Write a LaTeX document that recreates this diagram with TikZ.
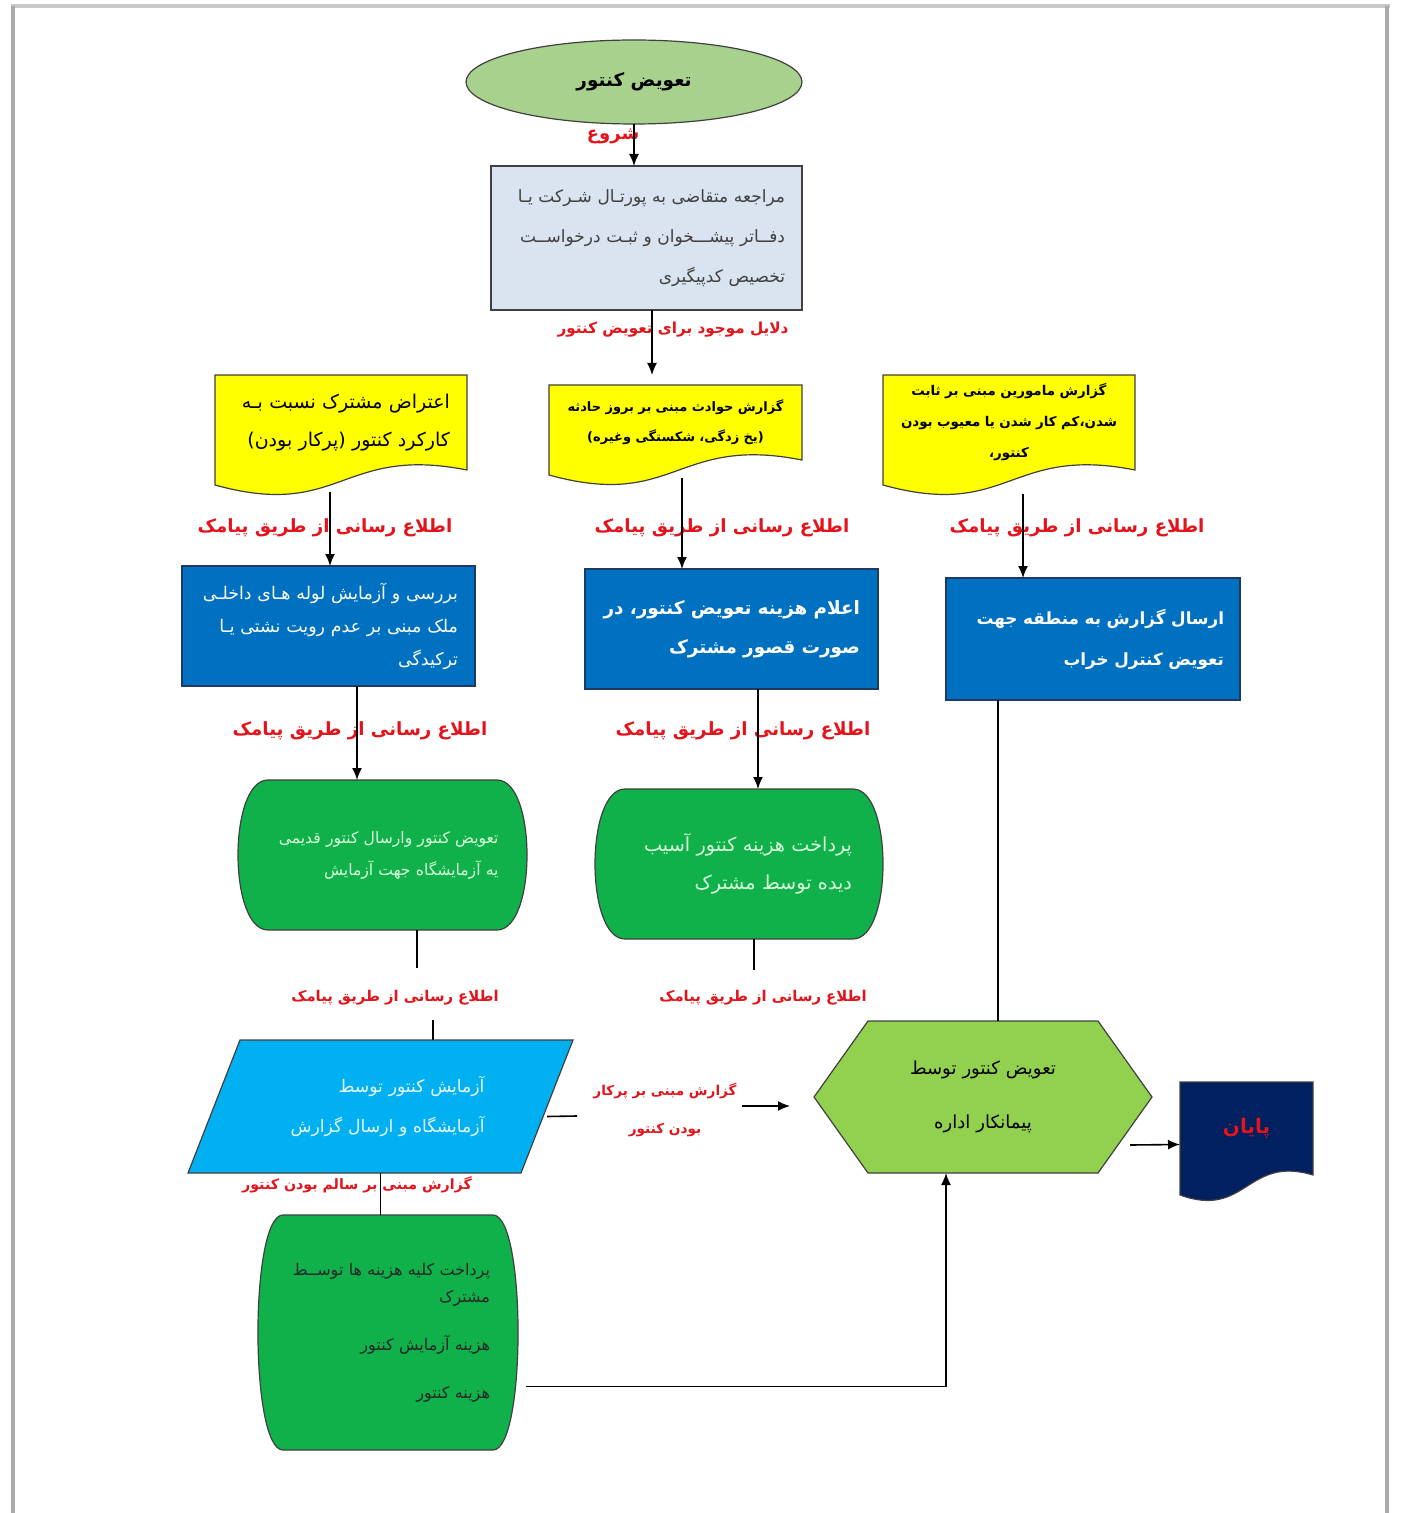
\documentclass[tikz,border=0pt]{standalone}
\usepackage{fontspec}
\usepackage{tikz}
\usetikzlibrary{arrows.meta,shapes.geometric,backgrounds}
\newfontfamily\arabicfont[Script=Arabic]{DejaVu Sans}
\TeXXeTstate=1
\newcommand\fa[1]{\beginR #1\endR}
\definecolor{startgreen}{HTML}{A9D18E}
\definecolor{reqgray}{HTML}{DAE3F0}
\definecolor{docyellow}{HTML}{FFFF00}
\definecolor{boxblue}{HTML}{0070C0}
\definecolor{navyline}{HTML}{1F3864}
\definecolor{stepgreen}{HTML}{10B04A}
\definecolor{labcyan}{HTML}{00B0F0}
\definecolor{hexgreen}{HTML}{92D050}
\definecolor{endnavy}{HTML}{002060}
\definecolor{lblred}{HTML}{E3141B}
\definecolor{framegray}{HTML}{C8C8C8}

\begin{document}
\begin{tikzpicture}[x=0.5pt, y=-0.5pt,
        >={Latex[length=6pt,width=5pt]},
        thick,
        every node/.style={inner sep=0pt, outer sep=0pt},
        lbl/.style={text=lblred, align=center,
                    font=\arabicfont\bfseries\fontsize{9.1}{15}\selectfont},
        smalllbl/.style={lbl, font=\arabicfont\bfseries\fontsize{7.4}{19}\selectfont},
        textbox/.style={rectangle, align=right, inner xsep=8.5pt},
        bluebox/.style={textbox, draw=navyline, fill=boxblue, text=white},
        outline/.style={draw=black!75, semithick}]

    \useasboundingbox (0,0) rectangle (1408,1513);

    \node[ellipse, outline, fill=startgreen, minimum width=168pt, minimum height=42pt,
          font=\arabicfont\bfseries\fontsize{9.2}{14}\selectfont] (start) at (634,82) {\fa{تعویض کنتور}};
    \node[lbl, font=\arabicfont\bfseries\fontsize{9}{14}\selectfont] (lstart) at (613,136) {\fa{شروع}};
    \node[textbox, outline, fill=reqgray, text=black!75, text width=138.5pt, minimum height=72pt,
          font=\arabicfont\fontsize{8.5}{20}\selectfont] (request) at (646.5,238)
          {\fa{مراجعه متقاضی به پورتـال شـرکت یـا}\\
           \fa{دفــاتر پیشـــخوان و ثبـت درخواســت}\\
           \fa{تخصیص کدپیگیری}};
    \node[lbl, font=\arabicfont\bfseries\fontsize{7.6}{12}\selectfont] (lreasons) at (673,330) {\fa{دلایل موجود برای تعویض کنتور}};

    % reasons
    \node[textbox, text width=109pt, minimum height=47.5pt,
          font=\arabicfont\fontsize{9.5}{19}\selectfont] (claim) at (341,422.5)
          {\fa{اعتراض مشترک نسبت بـه}\\ \fa{کارکرد کنتور (پرکار بودن)}};
    \node[textbox, align=center, text width=112pt, inner xsep=7.25pt, minimum height=37.5pt,
          font=\arabicfont\bfseries\fontsize{6.5}{15}\selectfont] (accident) at (675.5,422.5)
          {\fa{گزارش حوادث مبنی بر بروز حادثه}\\ \fa{(یخ زدگی، شکستگی وغیره)}};
    \node[textbox, align=center, text width=112pt, inner xsep=7pt, minimum height=47.5pt,
          font=\arabicfont\bfseries\fontsize{6.7}{15.5}\selectfont] (agents) at (1009,422.5)
          {\fa{گزارش مامورین مبنی بر ثابت}\\ \fa{شدن،کم کار شدن یا معیوب بودن}\\ \fa{کنتور،}};

    \node[lbl] (sms1) at (325,528) {\fa{اطلاع رسانی از طریق پیامک}};
    \node[lbl] (sms2) at (722,528) {\fa{اطلاع رسانی از طریق پیامک}};
    \node[lbl] (sms3) at (1077,528) {\fa{اطلاع رسانی از طریق پیامک}};

    \node[bluebox, text width=129.5pt, minimum height=60pt,
          font=\arabicfont\fontsize{8.7}{16.5}\selectfont] (inspect) at (328.5,626)
          {\fa{بررسی و آزمایش لوله هـای داخلـی}\\
           \fa{ملک مبنی بر عدم رویت نشتی یـا}\\
           \fa{ترکیدگی}};
    \node[bluebox, text width=128.5pt, inner xsep=9pt, minimum height=60pt,
          font=\arabicfont\bfseries\fontsize{9.2}{19.5}\selectfont] (cost) at (731.5,629)
          {\fa{اعلام هزینه تعویض کنتور، در}\\ \fa{صورت قصور مشترک}};
    \node[bluebox, text width=131pt, inner xsep=8pt, minimum height=61pt,
          font=\arabicfont\bfseries\fontsize{8.4}{20.5}\selectfont] (sendrep) at (1093,639)
          {\fa{ارسال گزارش به منطقه جهت}\\ \fa{تعویض کنترل خراب}};

    \node[lbl] (sms4) at (360,731) {\fa{اطلاع رسانی از طریق پیامک}};
    \node[lbl] (sms5) at (743,731) {\fa{اطلاع رسانی از طریق پیامک}};

    \node[textbox, text=green!15, text width=116pt, inner xsep=14.25pt, minimum height=75pt,
          font=\arabicfont\fontsize{7.8}{16}\selectfont] (swap) at (382.5,855)
          {\fa{تعویض کنتور وارسال کنتور قدیمی}\\ \fa{یه آزمایشگاه جهت آزمایش}};
    \node[textbox, text=green!15, text width=113pt, inner xsep=15.5pt, minimum height=75pt,
          font=\arabicfont\fontsize{9.6}{19}\selectfont] (paydmg) at (739,864)
          {\fa{پرداخت هزینه کنتور آسیب}\\ \fa{دیده توسط مشترک}};

    \node[smalllbl] (sms6) at (395,998) {\fa{اطلاع رسانی از طریق پیامک}};
    \node[smalllbl] (sms7) at (763,998) {\fa{اطلاع رسانی از طریق پیامک}};

    \node[textbox, text=cyan!10, text width=104pt, inner xsep=31.25pt, minimum height=66.5pt,
          font=\arabicfont\fontsize{8.6}{20}\selectfont] (labtest) at (380.5,1106.5)
          {\fa{آزمایش کنتور توسط}\\ \fa{آزمایشگاه و ارسال گزارش}};
    \node[smalllbl, font=\arabicfont\bfseries\fontsize{6.8}{19}\selectfont] (lover) at (665,1110)
          {\fa{گزارش مبنی بر پرکار}\\ \fa{بودن کنتور}};
    \node[smalllbl, font=\arabicfont\bfseries\fontsize{7.1}{12}\selectfont] (lsound) at (357,1185) {\fa{گزارش مبنی بر سالم بودن کنتور}};

    \node[textbox, text=black!85, text width=102pt, inner xsep=14pt, minimum height=117.5pt,
          font=\arabicfont\fontsize{8}{13.5}\selectfont] (payall) at (388,1332.5)
          {\fa{پرداخت کلیه هزینه ها توســط}\\ \fa{مشترک}\\[10.5pt]
           \fa{هزینه آزمایش کنتور}\\[10.5pt] \fa{هزینه کنتور}};

    \node[textbox, align=center, text width=100pt, inner xsep=34.5pt, minimum height=76pt,
          font=\arabicfont\fontsize{9}{27}\selectfont] (contractor) at (983,1097)
          {\fa{تعویض کنتور توسط}\\ \fa{پیمانکار اداره}};
    \node[textbox, align=center, text width=49.5pt, minimum height=46.5pt, text=lblred,
          font=\arabicfont\bfseries\fontsize{10}{14}\selectfont] (finish) at (1246.5,1128.5) {\fa{پایان}};

    % shapes behind the texts
    \begin{scope}[on background layer]
      \fill[white] (0,0) rectangle (1408,1513);
      \draw[framegray, line width=2pt] (11,6) -- (1390,6);
      \draw[framegray!85!black, line width=2pt] (13,6) -- (13,1513);
      \draw[framegray!85!black, line width=2pt] (1387,6) -- (1387,1513);

      \path[outline, fill=docyellow] (claim.north west) -- (claim.north east) -- (claim.south east)
          .. controls ([yshift=12.5pt]claim.south) and ([yshift=-25pt]claim.south) .. ([yshift=-7.5pt]claim.south west) -- cycle;
      \path[outline, fill=docyellow] (accident.north west) -- (accident.north east) -- (accident.south east)
          .. controls ([yshift=12.5pt]accident.south) and ([yshift=-25pt]accident.south) .. ([yshift=-7.5pt]accident.south west) -- cycle;
      \path[outline, fill=docyellow] (agents.north west) -- (agents.north east) -- (agents.south east)
          .. controls ([yshift=12.5pt]agents.south) and ([yshift=-25pt]agents.south) .. ([yshift=-7.5pt]agents.south west) -- cycle;
      \path[outline, fill=endnavy] (finish.north west) -- (finish.north east) -- (finish.south east)
          .. controls ([yshift=10pt]finish.south) and ([yshift=-22pt]finish.south) .. ([yshift=-10pt]finish.south west) -- cycle;

      \path[outline, fill=stepgreen] ([xshift=15pt]swap.north west) -- ([xshift=-15pt]swap.north east)
          .. controls ([xshift=5pt]swap.north east) and ([xshift=5pt]swap.south east) .. ([xshift=-15pt]swap.south east)
          -- ([xshift=15pt]swap.south west)
          .. controls ([xshift=-5pt]swap.south west) and ([xshift=-5pt]swap.north west) .. cycle;
      \path[outline, fill=stepgreen] ([xshift=15pt]paydmg.north west) -- ([xshift=-15pt]paydmg.north east)
          .. controls ([xshift=5pt]paydmg.north east) and ([xshift=5pt]paydmg.south east) .. ([xshift=-15pt]paydmg.south east)
          -- ([xshift=15pt]paydmg.south west)
          .. controls ([xshift=-5pt]paydmg.south west) and ([xshift=-5pt]paydmg.north west) .. cycle;
      \path[outline, fill=stepgreen] ([xshift=12.5pt]payall.north west) -- ([xshift=-12.5pt]payall.north east)
          .. controls ([xshift=4.2pt]payall.north east) and ([xshift=4.2pt]payall.south east) .. ([xshift=-12.5pt]payall.south east)
          -- ([xshift=12.5pt]payall.south west)
          .. controls ([xshift=-4.2pt]payall.south west) and ([xshift=-4.2pt]payall.north west) .. cycle;

      \path[outline, fill=labcyan] ([xshift=13pt]labtest.north west) -- ([xshift=13pt]labtest.north east)
          -- ([xshift=-13pt]labtest.south east) -- ([xshift=-13pt]labtest.south west) -- cycle;
      \path[outline, fill=hexgreen] (contractor.west) -- ([xshift=27pt]contractor.north west)
          -- ([xshift=-27pt]contractor.north east) -- (contractor.east)
          -- ([xshift=-27pt]contractor.south east) -- ([xshift=27pt]contractor.south west) -- cycle;
    \end{scope}

    % connectors
    \draw[->] (start.south) -- ([xshift=-6.25pt]request.north);
    \draw[->, shorten >=5pt] ([xshift=2.75pt]request.south) -- ([xshift=-11.75pt]accident.north);
    \draw[->] ([xshift=-5.5pt,yshift=-11pt]claim.south) -- ([xshift=0.75pt]inspect.north);
    \draw[->] ([xshift=3.25pt,yshift=-9pt]accident.south) -- ([xshift=-24.75pt]cost.north);
    \draw[->] ([xshift=7pt,yshift=-12pt]agents.south) -- ([xshift=-35pt]sendrep.north);
    \draw[->] ([xshift=14.25pt]inspect.south) -- ([xshift=-12.75pt]swap.north);
    \draw[->] ([xshift=13.25pt]cost.south) -- ([xshift=9.5pt]paydmg.north);
    \draw ([xshift=-47.5pt]sendrep.south) -- ([xshift=7.5pt]contractor.north);
    \coordinate (swapend) at (417,968);
    \draw ([xshift=17.25pt]swap.south) -- (swapend);
    \coordinate (labin) at (433,1020);
    \draw (labin) -- ([xshift=26.25pt]labtest.north);
    \coordinate (dmgend) at (754,970);
    \draw ([xshift=7.5pt]paydmg.south) -- (dmgend);
    \coordinate (labout) at (577,1116);
    \draw ([yshift=-5pt]labtest.east) -- (labout);
    \coordinate (overin) at (742,1106);
    \draw[->, shorten >=12pt] (overin) -- ([yshift=-4.5pt]contractor.west);
    \draw (labtest.south) -- ([xshift=-3.75pt]payall.north);
    \draw[->] ([xshift=4pt,yshift=-27pt]payall.east) -| ([xshift=-18.5pt]contractor.south);
    \draw[->] ([xshift=-11pt,yshift=-24pt]contractor.east) -- ([yshift=-8pt]finish.west);
\end{tikzpicture}
\end{document}
